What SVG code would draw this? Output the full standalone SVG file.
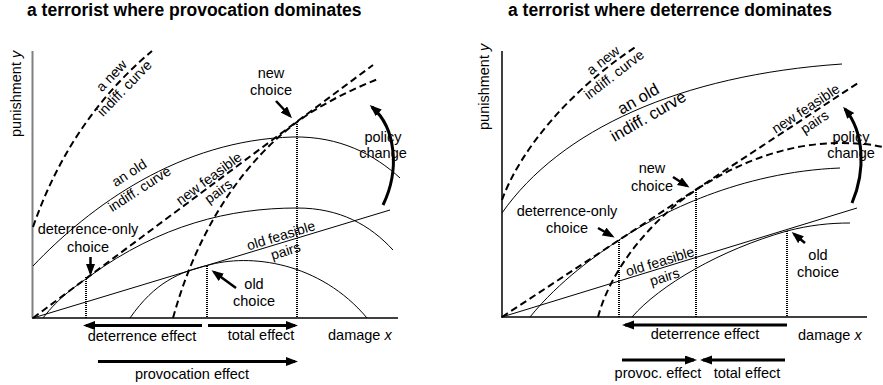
<svg xmlns="http://www.w3.org/2000/svg" width="883" height="385" viewBox="0 0 883 385">
<defs>
<style>
text{font-family:"Liberation Sans",Arial,sans-serif;fill:#000}
.title{font-size:17.5px;font-weight:bold}
.lbl{font-size:14.5px}
.rl{font-size:14px}
.c{text-anchor:middle}
.axis{stroke:#000;stroke-width:1.5;fill:none}
.gaxis{stroke:#808080;stroke-width:2;fill:none}
.thin{stroke:#000;stroke-width:1;fill:none}
.dash{stroke:#000;stroke-width:2;stroke-dasharray:7 4;fill:none}
.dot{stroke:#000;stroke-width:2;stroke-dasharray:1 1;fill:none}
.arr{stroke:#000;stroke-width:3;fill:none;marker-end:url(#ah)}
.parr{stroke:#000;stroke-width:2.5;fill:none;marker-end:url(#ah)}
</style>
<marker id="ah" markerUnits="userSpaceOnUse" markerWidth="12" markerHeight="10" refX="9" refY="4.5" orient="auto">
<path d="M0,0 L12,4.5 L0,9 z" fill="#000"/>
</marker>
</defs>

<g id="left-panel">
<text class="title" x="27" y="16">a terrorist where provocation dominates</text>
<line class="gaxis" x1="32.5" y1="51" x2="32.5" y2="318"/>
<line class="axis" x1="32" y1="318" x2="398" y2="318"/>
<text class="lbl" transform="translate(21,137) rotate(-90)">punishment <tspan font-style="italic">y</tspan></text>
<text class="lbl" x="328" y="340">damage <tspan font-style="italic">x</tspan></text>

<g id="left-curves">
<path class="dash" d="M33,227 Q70,120 152,51"/>
<path class="thin" d="M33,266 C90,206 180,140 293,137 C340,136 375,155 400,178"/>
<path class="dash" d="M33,318 L373,65"/>
<path class="dash" d="M173,318 C200,220 250,157 297,122 C320,105 350,90 378,79"/>
<path class="thin" d="M43,318 C60,296 75,287 90,276 C160,225 230,208 297,208 C340,208 370,225 393,250"/>
<path class="thin" d="M33,318 L390,210"/>
<path class="thin" d="M130,318 C155,282 180,272 207,265.5 C250,253 320,262 367,318"/>
<line class="dot" x1="86" y1="277" x2="86" y2="318"/>
<line class="dot" x1="207" y1="266" x2="207" y2="318"/>
<line class="dot" x1="297" y1="122" x2="297" y2="318"/>
</g>

<text class="rl c" transform="translate(118.5,82.5) rotate(-46)"><tspan x="0" y="-5">a new</tspan><tspan x="0" y="13">indiff. curve</tspan></text>
<text class="rl c" transform="translate(135,182) rotate(-33)"><tspan x="0" y="-6">an old</tspan><tspan x="0" y="13">indiff. curve</tspan></text>
<text class="rl c" transform="translate(214,185.5) rotate(-36.6)"><tspan x="0" y="-4">new feasible</tspan><tspan x="0" y="12">pairs</tspan></text>
<text class="rl c" transform="translate(283.5,244) rotate(-17)"><tspan x="0" y="-4">old feasible</tspan><tspan x="0" y="12">pairs</tspan></text>

<text class="lbl c" x="88" y="234">deterrence-only</text>
<text class="lbl c" x="88" y="252">choice</text>
<line class="parr" x1="90.5" y1="257" x2="90.5" y2="273"/>
<text class="lbl c" x="254" y="289">old</text>
<text class="lbl c" x="254" y="306">choice</text>
<line class="parr" x1="236" y1="288" x2="214" y2="272"/>
<text class="lbl c" x="271" y="78">new</text>
<text class="lbl c" x="271" y="95">choice</text>
<line class="parr" x1="276" y1="101" x2="290" y2="116"/>
<path class="arr" d="M383,205 C400,170 396,128 372,107"/>
<text class="lbl c" x="383" y="142">policy</text>
<text class="lbl c" x="383" y="158">change</text>

<line class="arr" x1="202" y1="325.5" x2="86" y2="325.5"/>
<line class="arr" x1="208" y1="325.5" x2="295" y2="325.5"/>
<line class="arr" x1="98" y1="361.5" x2="295" y2="361.5"/>
<text class="lbl c" x="142" y="341">deterrence effect</text>
<text class="lbl c" x="261" y="340">total effect</text>
<text class="lbl c" x="192" y="379">provocation effect</text>
</g>

<g id="right-panel">
<text class="title" x="508" y="16">a terrorist where deterrence dominates</text>
<line class="axis" x1="502" y1="51" x2="502" y2="317"/>
<line class="axis" x1="501" y1="317" x2="867" y2="317"/>
<text class="lbl" transform="translate(489,130) rotate(-90)">punishment <tspan font-style="italic">y</tspan></text>
<text class="lbl" x="798" y="340">damage <tspan font-style="italic">x</tspan></text>

<g id="right-curves">
<path class="dash" d="M502,200 C520,150 570,90 637,46"/>
<path class="thin" d="M502,213 C560,130 680,75 842,64"/>
<path class="dash" d="M502,317 L858,83"/>
<path class="dash" d="M598,317 C612,265 656,216 696,190 C740,161 790,143 840,143 C860,143 875,145 883,147"/>
<path class="thin" d="M530,317 C560,280 598,254 619,240 C660,213 740,172 840,168"/>
<path class="thin" d="M502,317 L857,208"/>
<path class="thin" d="M632,317 C660,285 720,250 787,231 C810,225 830,223 850,223"/>
<line class="dot" x1="619" y1="240" x2="619" y2="317"/>
<line class="dot" x1="696" y1="190" x2="696" y2="317"/>
<line class="dot" x1="787" y1="231" x2="787" y2="317"/>
</g>

<text class="rl c" transform="translate(609,68) rotate(-37.7)"><tspan x="0" y="-5">a new</tspan><tspan x="0" y="13">indiff. curve</tspan></text>
<text class="c" font-size="16.5" transform="translate(643.5,108) rotate(-30)"><tspan x="0" y="-5">an old</tspan><tspan x="0" y="15">indiff. curve</tspan></text>
<text class="rl c" transform="translate(810.5,116) rotate(-33.3)"><tspan x="0" y="-4">new feasible</tspan><tspan x="0" y="12">pairs</tspan></text>
<text class="rl c" transform="translate(662.5,270) rotate(-17)"><tspan x="0" y="-4">old feasible</tspan><tspan x="0" y="12">pairs</tspan></text>

<text class="lbl c" x="567" y="216">deterrence-only</text>
<text class="lbl c" x="567" y="233">choice</text>
<line class="parr" x1="598" y1="228" x2="612" y2="236"/>
<text class="lbl c" x="652" y="173">new</text>
<text class="lbl c" x="652" y="191">choice</text>
<line class="parr" x1="673" y1="177" x2="687" y2="186"/>
<text class="lbl c" x="818" y="260">old</text>
<text class="lbl c" x="818" y="277">choice</text>
<line class="parr" x1="805" y1="243" x2="794" y2="234"/>
<path class="arr" d="M852,203 C866,170 864,132 845,109"/>
<text class="lbl c" x="851" y="142">policy</text>
<text class="lbl c" x="851" y="158">change</text>

<line class="arr" x1="787" y1="325" x2="625" y2="325"/>
<line class="arr" x1="622" y1="360" x2="694" y2="360"/>
<line class="arr" x1="785" y1="360" x2="703" y2="360"/>
<text class="lbl c" x="705" y="339">deterrence effect</text>
<text class="lbl c" x="658" y="378">provoc. effect</text>
<text class="lbl c" x="747" y="378">total effect</text>
</g>
</svg>
